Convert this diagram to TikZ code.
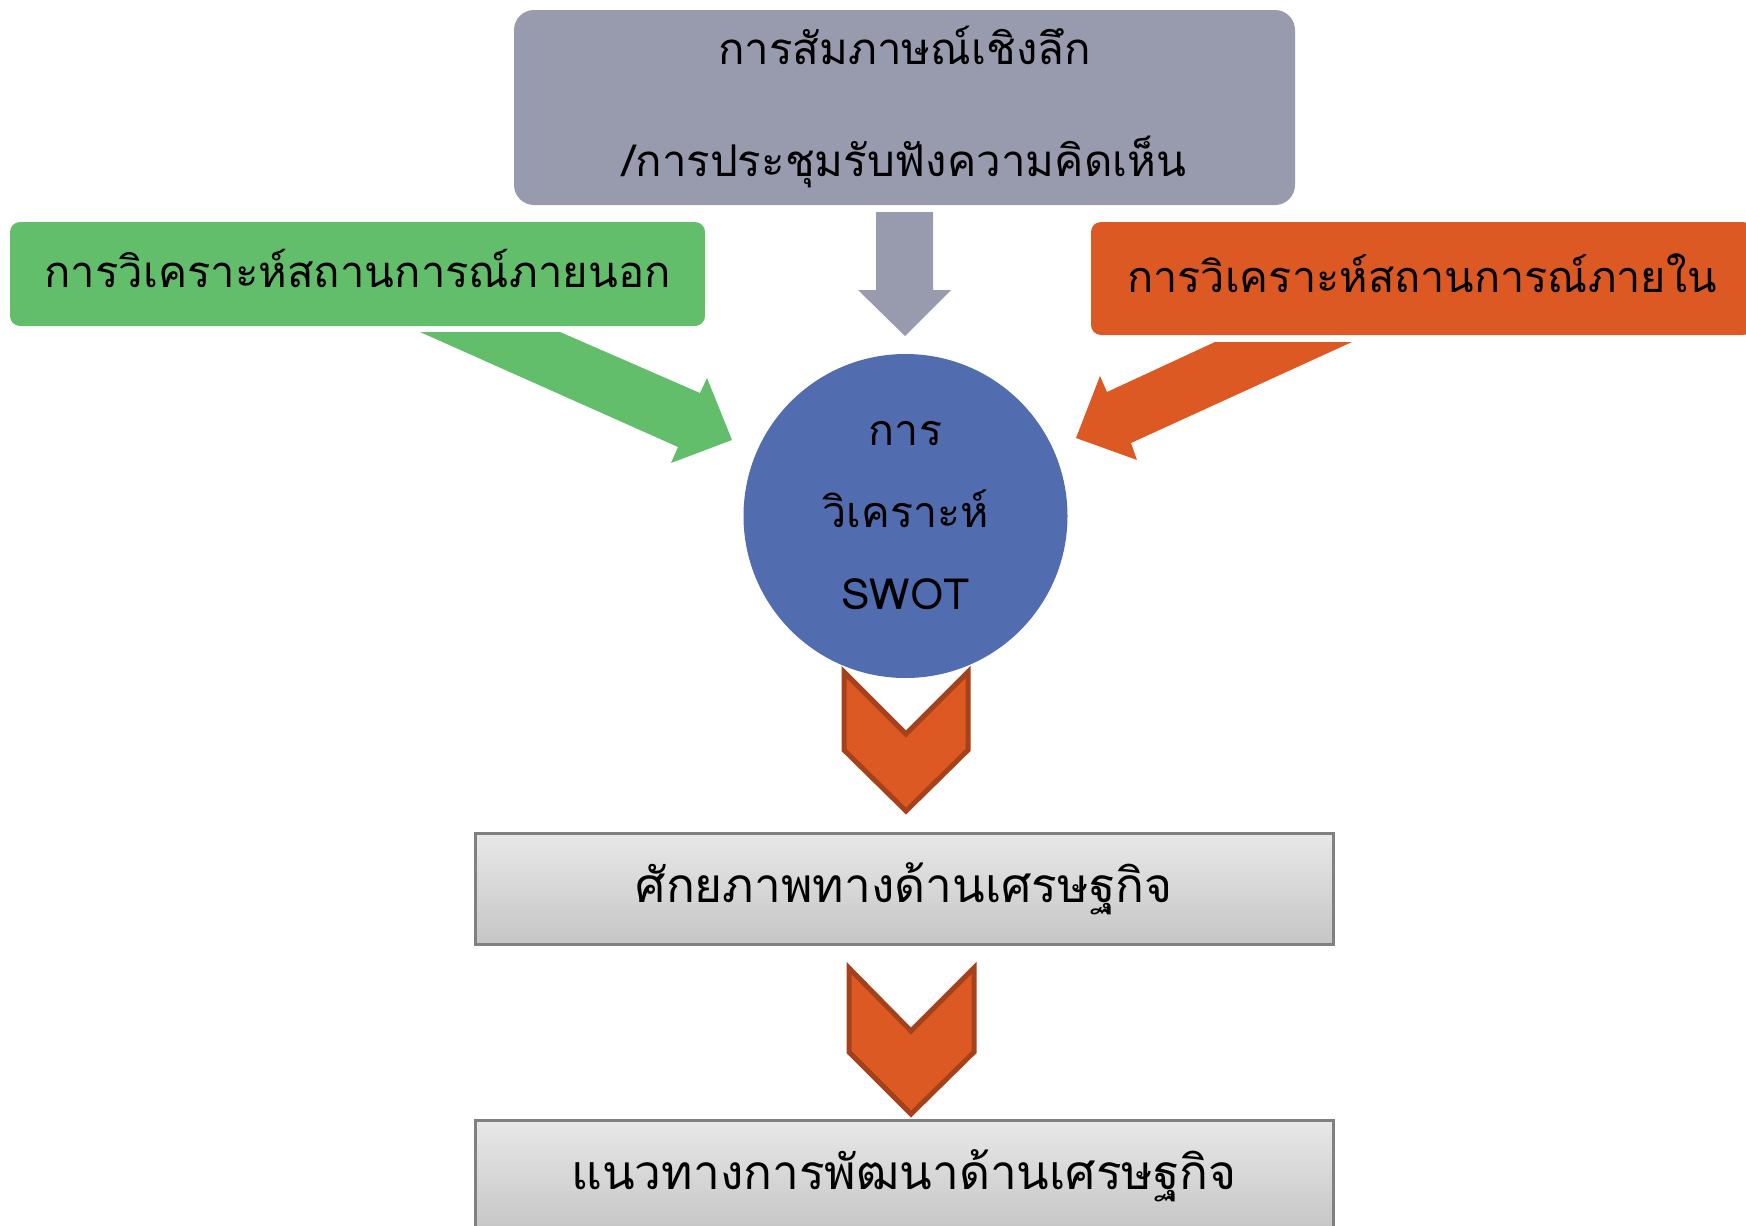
\documentclass[tikz,border=0pt]{standalone}
\usepackage{fontspec}
\newfontfamily\thaifont[Script=Thai]{Loma}
\usetikzlibrary{positioning}
\definecolor{talkgray}{RGB}{152,154,174}
\definecolor{outgreen}{RGB}{99,190,108}
\definecolor{inorange}{RGB}{220,89,36}
\definecolor{swotblue}{RGB}{82,108,176}
\definecolor{chevedge}{RGB}{165,66,27}
\definecolor{boxedge}{RGB}{128,128,128}
\tikzset{
	thai/.style={font=\thaifont\fontsize{#1}{28}\selectfont},
	src box/.style={rounded corners=5pt, inner sep=0pt, outer sep=0pt,
		thai=21.8, align=center},
	result box/.style={draw=boxedge, line width=1.5pt, top color=gray!18,
		bottom color=gray!45, minimum width=429pt, minimum height=55.5pt,
		inner sep=0pt, thai=23.9},
	block arrow/.style={fill=#1, draw=none},
	chevron/.style={fill=inorange, draw=chevedge, line width=2.5pt}
}
\begin{document}
\begin{tikzpicture}[x=0.5pt, y=-0.5pt]
   \useasboundingbox (0,0) rectangle (1746,1226);
   \clip (0,0) rectangle (1746,1226);
   \node[src box, fill=talkgray, rounded corners=10pt, minimum width=390.5pt,
      minimum height=97.5pt, font=\thaifont\fontsize{21.9}{56}\selectfont]
      (talk) at (904.5,107.5)
      {\raisebox{2.5pt}{การสัมภาษณ์เชิงลึก}\\\raisebox{2.5pt}{/การประชุมรับฟังความคิดเห็น}};
   \node[src box, fill=outgreen, minimum width=347.5pt, minimum height=52pt]
      (outside) at (357.5,274) {\raisebox{6pt}{การวิเคราะห์สถานการณ์ภายนอก}};
   \node[src box, fill=inorange, minimum width=331pt, minimum height=56.5pt,
      thai=21.6] (inside) at (1422,278.5) {\raisebox{5pt}{การวิเคราะห์สถานการณ์ภายใน}};
   % block arrows into the circle
   \fill[block arrow=talkgray] (876,212) -- (933,212) -- (933,290) -- (951,290)
      -- (905,336) -- (858,290) -- (876,290) -- cycle;
   \fill[block arrow=outgreen] (420,332) -- (560,332) -- (700,393) -- (707,378)
      -- (732,440) -- (671,463) -- (678,447) -- cycle;
   \fill[block arrow=inorange] (1352,342) -- (1215,342) -- (1107,392) -- (1100,376)
      -- (1076,438) -- (1137,460) -- (1131,443) -- cycle;
   \filldraw[chevron] (844,672) -- (906,734) -- (968,672) -- (968,750)
      -- (906,811) -- (844,750) -- cycle;
   \filldraw[chevron] (849,968) -- (911,1031) -- (974,968) -- (974,1052)
      -- (911,1114) -- (849,1052) -- cycle;
   \node[circle, fill=swotblue, minimum size=162pt, inner sep=0pt, align=center,
      font=\thaifont\fontsize{21.5}{41}\selectfont]
      (swot) at (905.5,516) {การ\\วิเคราะห์\\SWOT};
   \node[result box] (potential) at (904,888.5) {ศักยภาพทางด้านเศรษฐกิจ};
   \node[result box] (plan) at (904,1175.5) {แนวทางการพัฒนาด้านเศรษฐกิจ};
\end{tikzpicture}
\end{document}
